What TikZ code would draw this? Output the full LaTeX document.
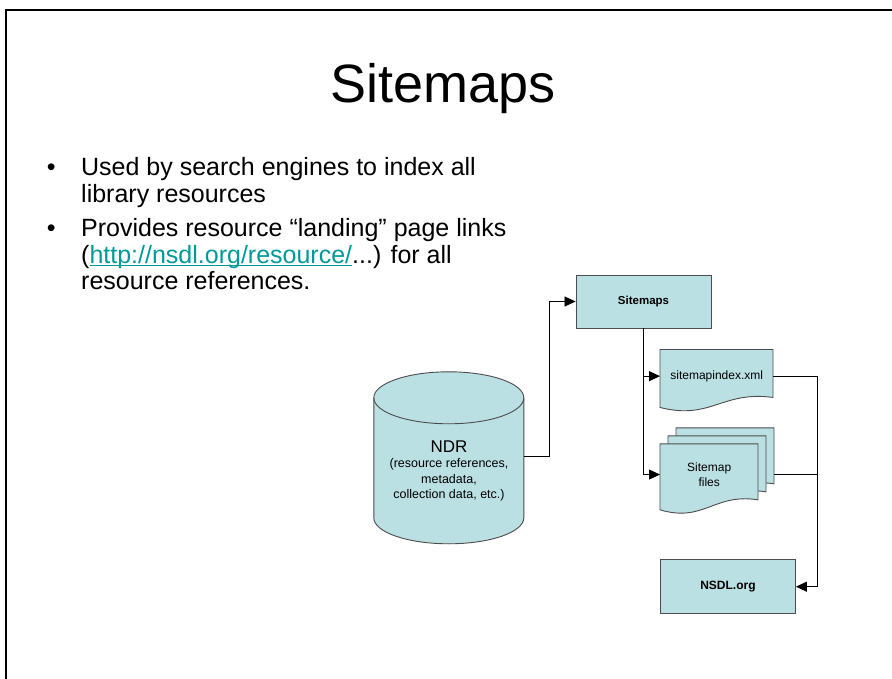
\documentclass[tikz,border=0pt]{standalone}
\usepackage{fontspec}
\setmainfont{Liberation Sans}
\usetikzlibrary{arrows.meta, positioning, backgrounds}

\definecolor{boxfill}{RGB}{187,224,227}
\definecolor{linkteal}{RGB}{0,153,153}

% document page outline: node, offset, width, height
\newcommand{\pageshape}[4]{%
  \filldraw[page, shift={(#1.north west)}, shift={(#2,-#2)}]
    (0,0) -- (#3,0) -- (#3,#4-5)
    .. controls (0.55*#3,#4-12) and (0.45*#3,#4+18) .. (0,#4+5) -- cycle;}

\begin{document}
\begin{tikzpicture}[
    x=1pt, y=-1pt,
    box/.style={draw=black!70, line width=0.9pt, fill=boxfill, align=center,
                minimum width=135pt, minimum height=53pt, inner sep=2pt,
                font=\fontsize{11.5}{14}\selectfont\bfseries},
    docnode/.style={align=center, inner sep=2pt, font=\fontsize{12}{15}\selectfont},
    page/.style={draw=black!70, line width=0.9pt, fill=boxfill},
    bullets/.style={anchor=base west, align=left, inner sep=0pt},
    arrow/.style={-{Triangle[length=11pt, width=10pt]}, line width=0.8pt},
    link/.style={line width=0.8pt}
]
\useasboundingbox (0,0) rectangle (892,679);
\draw[line width=2.2pt] (6,690) -- (6,10) -- (900,10);

% Title and bullets
\node[anchor=base, inner sep=0pt, font=\fontsize{54}{60}\selectfont] (title) at (443,103) {Sitemaps};
\node[bullets, font=\fontsize{25}{27}\selectfont] (item1) at (81,203)
  {\llap{\textbullet\hspace{25.5pt}}Used by search engines to index all\\library resources};
\node[bullets, font=\fontsize{25}{26.5}\selectfont] (item2) at (81,290)
  {\llap{\textbullet\hspace{25.5pt}}Provides resource “landing” page links\\(\textcolor{linkteal}{\underline{\smash{http://nsdl.org/resource/}}}...) for all\\resource references.};

% Diagram
\node[align=center, minimum width=150pt, minimum height=146pt,
      font=\fontsize{12.5}{15.5}\selectfont] (ndr) at (449,471)
  {{\fontsize{17}{19}\selectfont NDR}\\(resource references,\\metadata,\\collection data, etc.)};
\node[box] (sitemaps) at (643.5,301.5) {Sitemaps};
\node[docnode, minimum width=113pt, minimum height=53pt,
      below right=21pt and 16.5pt of sitemaps.south] (index) {sitemapindex.xml};
\node[docnode, minimum width=98pt, minimum height=61pt,
      below right=41pt and 0pt of index.south west] (files) {Sitemap\\files};
\node[box, font=\fontsize{12}{14}\selectfont\bfseries, minimum height=54pt,
      below right=54pt and 0pt of files.south west] (nsdl) {NSDL.org};

\begin{scope}[on background layer]
  \filldraw[page, shift={(ndr.north west)}] (0,0) -- (0,120)
    arc[start angle=180, end angle=360, x radius=75pt, y radius=26pt] -- (150,0)
    arc[start angle=0, end angle=180, x radius=75pt, y radius=26pt] -- cycle;
  \draw[page, fill=none, shift={(ndr.north west)}] (0,0)
    arc[start angle=180, end angle=360, x radius=75pt, y radius=26pt];
  \pageshape{index}{0}{113}{53}
  \pageshape{files}{16}{98}{61}
  \pageshape{files}{8}{98}{61}
  \pageshape{files}{0}{98}{61}
\end{scope}

\draw[arrow] ([yshift=15pt]ndr.east) -- ++(25,0) |- (sitemaps.west);
\draw[arrow] (sitemaps.south) |- (index.west);
\draw[arrow] (sitemaps.south) |- (files.west);
\coordinate (bus) at ([xshift=44pt]index.east);
\draw[link] (index.east) -- (bus);
\draw[link] ([xshift=16pt]files.east) -- (files.east -| bus);
\draw[arrow] (bus) |- (nsdl.east);

\end{tikzpicture}
\end{document}
